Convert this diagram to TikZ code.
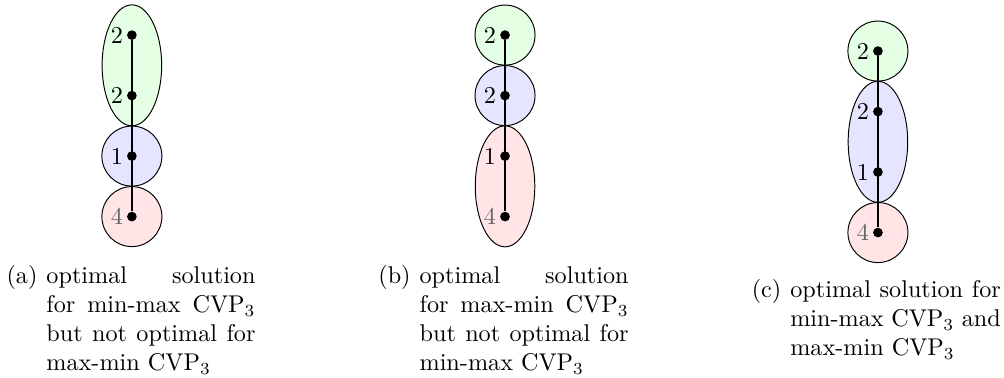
\documentclass[tikz,border=0pt]{standalone}
\usepackage{tikz}
\usetikzlibrary{positioning,backgrounds,calc}
\tikzset{
    vtx/.style={circle,fill,inner sep=0pt,minimum size=4pt},
    wlbl/.style={inner sep=1.3pt},
    grp/.style={draw,thin},
    chainline/.style={line width=0.7pt},
    capbox/.style={inner sep=0pt,align=justify,text width=86.4pt,anchor=north west},
    tagbox/.style={inner sep=0pt,text height=8.4pt,anchor=north east}
}

\begin{document}
\begin{tikzpicture}[node distance=25pt,on grid]
    \useasboundingbox (0,0) rectangle (414.9pt,-156.2pt);

    % (a)
    \node[vtx,label={[wlbl]left:2}] (a1) at (54.5pt,-14.5pt) {};
    \node[vtx,label={[wlbl]left:2},below=of a1] (a2) {};
    \node[vtx,label={[wlbl]left:1},below=of a2] (a3) {};
    \node[vtx,label={[wlbl,text=black!60]left:4},below=of a3] (a4) {};

    % (b)
    \node[vtx,label={[wlbl]left:2}] (b1) at (208.7pt,-14.5pt) {};
    \node[vtx,label={[wlbl]left:2},below=of b1] (b2) {};
    \node[vtx,label={[wlbl]left:1},below=of b2] (b3) {};
    \node[vtx,label={[wlbl,text=black!60]left:4},below=of b3] (b4) {};

    % (c)
    \node[vtx,label={[wlbl]left:2}] (c1) at (362.8pt,-21.1pt) {};
    \node[vtx,label={[wlbl]left:2},below=of c1] (c2) {};
    \node[vtx,label={[wlbl]left:1},below=of c2] (c3) {};
    \node[vtx,label={[wlbl,text=black!60]left:4},below=of c3] (c4) {};

    \begin{scope}[on background layer]
        \draw[grp,fill=green!10] ($(a1)!0.5!(a2)$) ellipse [x radius=12.3pt,y radius=25pt];
        \draw[grp,fill=blue!10] (a3) circle [radius=12.4pt];
        \draw[grp,fill=red!10] (a4) circle [radius=12.4pt];
        \draw[chainline] (a1) -- (a4);

        \draw[grp,fill=green!10] (b1) circle [radius=12.4pt];
        \draw[grp,fill=blue!10] (b2) circle [radius=12.4pt];
        \draw[grp,fill=red!10] ($(b3)!0.5!(b4)$) ellipse [x radius=12.3pt,y radius=25pt];
        \draw[chainline] (b1) -- (b4);

        \draw[grp,fill=green!10] (c1) circle [radius=12.4pt];
        \draw[grp,fill=blue!10] ($(c2)!0.5!(c3)$) ellipse [x radius=12.3pt,y radius=25pt];
        \draw[grp,fill=red!10] (c4) circle [radius=12.4pt];
        \draw[chainline] (c1) -- (c4);
    \end{scope}

    % captions
    \node[capbox] (capa) at (19pt,-108.7pt) {\strut optimal solution\linebreak for min-max CVP$_3$\linebreak but not optimal for\linebreak max-min CVP$_3$};
    \node[left=3.3pt of capa.north west,tagbox] (taga) {(a)};
    \node[capbox] (capb) at (173.2pt,-108.7pt) {\strut optimal solution\linebreak for max-min CVP$_3$\linebreak but not optimal for\linebreak min-max CVP$_3$};
    \node[left=3.3pt of capb.north west,tagbox] (tagb) {(b)};
    \node[capbox,text width=87pt] (capc) at (326.4pt,-114.3pt) {\strut optimal solution for\linebreak min-max CVP$_3$ and\linebreak max-min CVP$_3$};
    \node[left=3.3pt of capc.north west,tagbox] (tagc) {(c)};
\end{tikzpicture}
\end{document}
